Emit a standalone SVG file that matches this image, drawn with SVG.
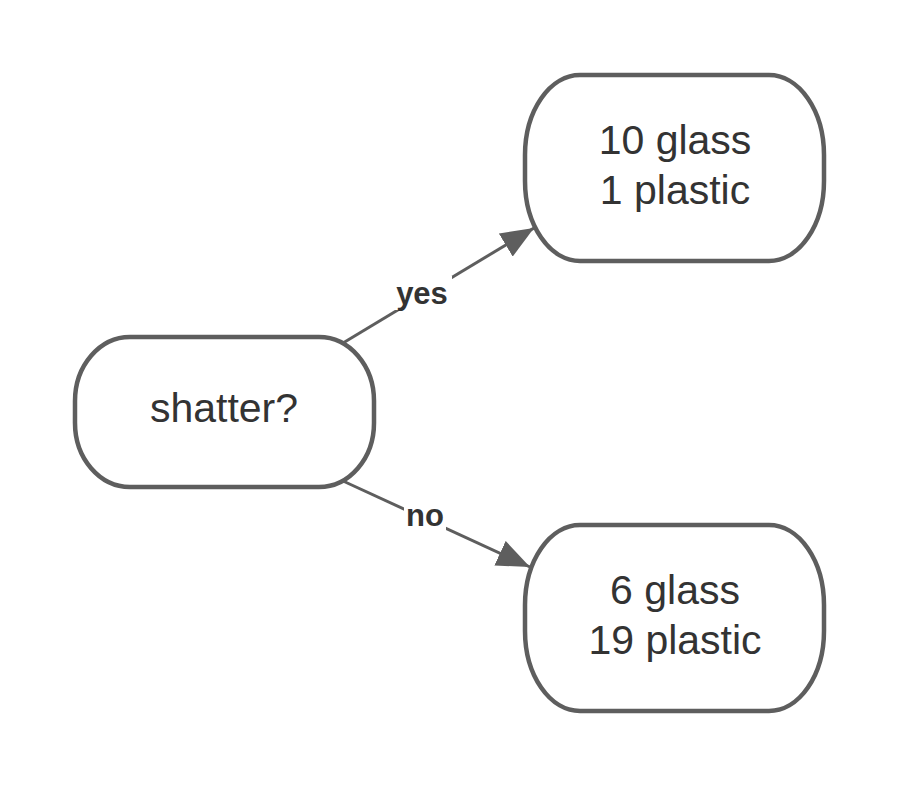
<svg xmlns="http://www.w3.org/2000/svg" width="900" height="788" viewBox="0 0 900 788">
<defs>
<marker id="arrow" markerWidth="11" markerHeight="9" refX="11" refY="4.5" orient="auto" markerUnits="strokeWidth">
<path d="M0,0 L11,4.5 L0,9 Z" fill="#5e5e5e"/>
</marker>
</defs>
<style>
.node { fill: #ffffff; stroke: #5e5e5e; stroke-width: 4.5; }
.label { font-family: "Liberation Sans", Arial, sans-serif; font-size: 41px; fill: #333333; text-anchor: middle; }
.edge { stroke: #5e5e5e; stroke-width: 3; fill: none; }
.elabel { font-family: "Liberation Sans", Arial, sans-serif; font-size: 31px; font-weight: bold; fill: #333333; text-anchor: middle; }
.lbg { fill: #ffffff; }
</style>
<rect width="900" height="788" fill="#ffffff"/>
<g id="connectors">
<line class="edge" x1="343" y1="343" x2="534" y2="228" marker-end="url(#arrow)"/>
<line class="edge" x1="343" y1="481" x2="530" y2="567" marker-end="url(#arrow)"/>
<rect class="lbg" x="392" y="276" width="60" height="34"/>
<text class="elabel" x="422" y="304">yes</text>
<rect class="lbg" x="404" y="500" width="42" height="32"/>
<text class="elabel" x="425" y="526">no</text>
</g>
<g id="shatter">
<path class="node" d="M130,337 L319,337 A55,64 0 0 1 374,401 L374,423 A55,64 0 0 1 319,487 L130,487 A55,64 0 0 1 75,423 L75,401 A55,64 0 0 1 130,337 Z"/>
<text class="label" x="224" y="422">shatter?</text>
</g>
<g id="yes-node">
<path class="node" d="M580,75 L769,75 A55,80 0 0 1 824,155 L824,181 A55,80 0 0 1 769,261 L580,261 A55,80 0 0 1 525,181 L525,155 A55,80 0 0 1 580,75 Z"/>
<text class="label" x="675" y="154">10 glass</text>
<text class="label" x="675" y="204">1 plastic</text>
</g>
<g id="no-node">
<path class="node" d="M580,525 L769,525 A55,80 0 0 1 824,605 L824,631 A55,80 0 0 1 769,711 L580,711 A55,80 0 0 1 525,631 L525,605 A55,80 0 0 1 580,525 Z"/>
<text class="label" x="675" y="604">6 glass</text>
<text class="label" x="675" y="654">19 plastic</text>
</g>
</svg>
